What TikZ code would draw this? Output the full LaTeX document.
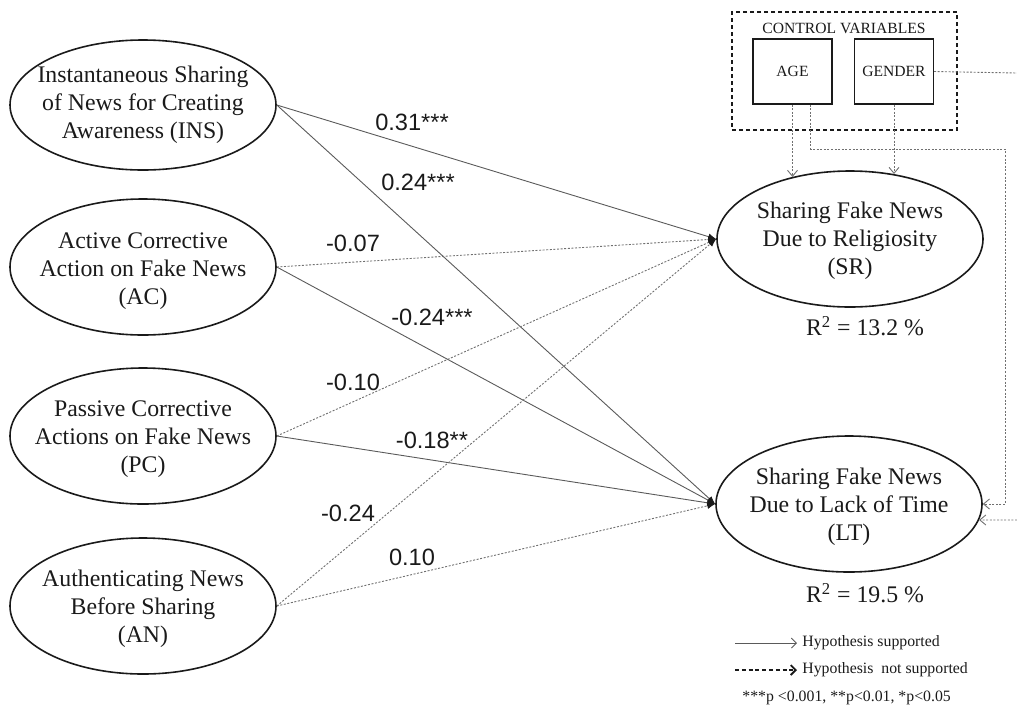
\documentclass[tikz,border=0pt]{standalone}
\usepackage{fontspec}
\setmainfont{Liberation Serif}
\newfontfamily\coeffont{Liberation Sans}
\usetikzlibrary{positioning,arrows.meta,shapes.geometric}

\definecolor{inkblack}{HTML}{1A1A1A}
\definecolor{pathgray}{HTML}{5A5A5A}
\definecolor{dotgray}{HTML}{707070}

\begin{document}
\begin{tikzpicture}[
  x=0.5pt,y=-0.5pt,
  var/.style={draw=inkblack,ellipse,line width=0.8pt,minimum width=133pt,minimum height=68pt,inner sep=0pt},
  vartext/.style={align=center,font=\fontsize{11.9}{14}\selectfont,text=inkblack,inner sep=0pt},
  ctrl/.style={draw=inkblack,line width=0.6pt,minimum width=39.5pt,minimum height=32.5pt,inner sep=0pt,font=\fontsize{7.8}{9}\selectfont,text=inkblack},
  coef/.style={font=\coeffont\fontsize{11.8}{14}\selectfont,text=inkblack,inner sep=0pt},
  rsq/.style={font=\fontsize{11.9}{14}\selectfont,text=inkblack,inner sep=0pt},
  legend/.style={font=\fontsize{7.9}{9}\selectfont,text=inkblack,anchor=west,inner sep=0pt},
  sup/.style={draw=pathgray,line width=0.45pt,-{Latex[length=4pt,width=3.2pt,color=inkblack]}},
  nsup/.style={draw=dotgray,line width=0.45pt,dash pattern=on 1pt off 0.8pt,-{Latex[length=4pt,width=3.2pt,color=inkblack]}},
  cvline/.style={draw=dotgray,line width=0.45pt,dash pattern=on 1pt off 0.8pt},
  cvarrow/.style={cvline,-{Straight Barb[length=3pt,width=5pt]}},
]
  \useasboundingbox (0,0) rectangle (1017,708);

  % Predictors
  \node[var,minimum height=65pt] (INS) at (143,105) {};
  \node[vartext] (INS-t) at (INS) {Instantaneous Sharing\\of News for Creating\\Awareness (INS)};
  \node[var] (AC) at (143,267) {};
  \node[vartext] (AC-t) at (143,271) {Active Corrective\\Action on Fake News\\(AC)};
  \node[var] (PC) at (143,436) {};
  \node[vartext] (PC-t) at (143,439) {Passive Corrective\\Actions on Fake News\\(PC)};
  \node[var] (AN) at (143,606) {};
  \node[vartext] (AN-t) at (143,609) {Authenticating News\\Before Sharing\\(AN)};

  % Outcomes
  \node[var] (SR) at (850,239) {};
  \node[vartext] (SR-t) at (850,241) {Sharing Fake News\\Due to Religiosity\\(SR)};
  \node[var] (LT) at (849,504) {};
  \node[vartext] (LT-t) at (849,507) {Sharing Fake News\\Due to Lack of Time\\(LT)};
  \node[rsq] (SR-r) at (865,326) {R\textsuperscript{2} = 13.2 \%};
  \node[rsq] (LT-r) at (865,593) {R\textsuperscript{2} = 19.5 \%};

  % Control variables
  \node[draw=inkblack,line width=0.8pt,dash pattern=on 2pt off 1.5pt,minimum width=112.5pt,minimum height=59pt,inner sep=0pt] (ctrlbox) at (844.5,71) {};
  \node[font=\fontsize{7.8}{9}\selectfont,text=inkblack,inner sep=0pt] (ctrltitle) at (844,28) {CONTROL VARIABLES};
  \node[ctrl] (AGE) at (792.5,71.5) {AGE};
  \node[ctrl] (GENDER) at (894,71.5) {GENDER};
  \coordinate (gout) at (1017,73);
  \coordinate (gin) at (1017,520);

  % Edges: supported
  \path (INS.east) edge[sup] (SR.west);
  \path (INS.east) edge[sup] (LT.west);
  \path (AC.east) edge[sup] (LT.west);
  \path (PC.east) edge[sup] (LT.west);

  % Edges: not supported
  \path (AC.east) edge[nsup] (SR.west);
  \path (PC.east) edge[nsup] (SR.west);
  \path (AN.east) edge[nsup] (SR.west);
  \path (AN.east) edge[nsup] (LT.west);

  % Coefficients
  \node[coef] (c1) at (412,122) {0.31***};
  \node[coef] (c2) at (418,182) {0.24***};
  \node[coef] (c3) at (353,243) {-0.07};
  \node[coef] (c4) at (432,317) {-0.24***};
  \node[coef] (c5) at (353,382) {-0.10};
  \node[coef] (c6) at (432,440) {-0.18**};
  \node[coef] (c7) at (348,513) {-0.24};
  \node[coef] (c8) at (412,557) {0.10};

  % Edges: controls
  \draw[cvarrow] (AGE.south) -- (AGE.south |- SR.133);
  \draw[cvarrow] (GENDER.south) -- (GENDER.south |- SR.56);
  \draw[cvarrow] ([xshift=9pt]AGE.south) |- (1005,149) |- (LT.east);
  \draw[cvline] (GENDER.east) -- (gout);
  \draw[cvarrow] (gin) -- (LT.-7);

  % Legend
  \node[legend] (leg1) at (802,643) {Hypothesis supported};
  \node[legend] (leg2) at (802,670) {Hypothesis~ not supported};
  \node[legend] (leg3) at (742,698) {***p <0.001, **p<0.01, *p<0.05};
  \coordinate (leg1a) at (735,643);
  \coordinate (leg2a) at (735,670);
  \draw[draw=pathgray,line width=0.45pt,-{Straight Barb[length=2.5pt,width=5pt]}] (leg1a) -- ([xshift=-2.5pt]leg1.west);
  \draw[draw=inkblack,line width=0.6pt,dash pattern=on 2pt off 1.4pt,-{Straight Barb[length=2.5pt,width=5pt,line width=0.9pt]}] (leg2a) -- ([xshift=-2.5pt]leg2.west);
\end{tikzpicture}
\end{document}
